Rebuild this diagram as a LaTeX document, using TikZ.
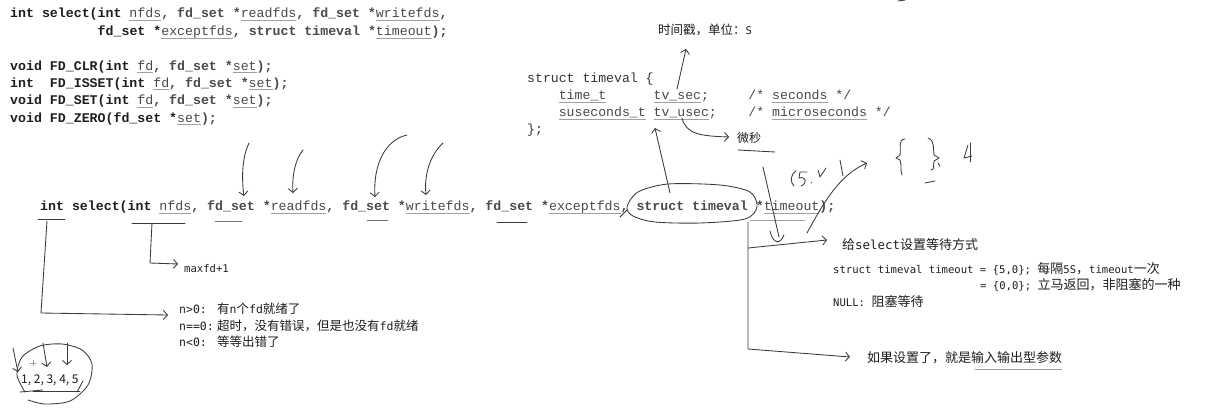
\documentclass[tikz,border=0pt]{standalone}
\usepackage{fontspec}
\usetikzlibrary{arrows.meta}
\newfontfamily\codefont{Liberation Mono}
\newfontfamily\cjk{Noto Sans CJK SC}
\newfontfamily\lat{DejaVu Sans Mono}
\definecolor{ink}{HTML}{1E1E1E}
\definecolor{argink}{HTML}{4A4A4A}
\definecolor{pen}{HTML}{3A3A3A}
\definecolor{ulgray}{HTML}{A0A0A0}
\newcommand\ulx[1]{\setbox0\hbox{\mdseries\color{argink}#1}\rlap{\color{ulgray}\rule[-2.8pt]{\wd0}{0.8pt}}\box0\relax}
\newcommand\lt[1]{{\lat\fontsize{10.6}{13}\selectfont #1}}
\newcommand\ltm[1]{{\lat\fontsize{11.5}{14}\selectfont #1}}
\newcommand\ltb[1]{{\lat\fontsize{12.4}{14}\selectfont #1}}
\frenchspacing
\tikzset{
  code/.style={anchor=base west, inner sep=0pt, text=ink, font=\codefont\bfseries\fontsize{13.25}{16}\selectfont},
  scode/.style={anchor=base west, inner sep=0pt, text=ink!90, font=\codefont\fontsize{13.17}{16}\selectfont},
  note/.style={anchor=base west, inner sep=0pt, text=ink, font=\cjk\fontsize{12.5}{15}\selectfont},
  notel/.style={note, font=\cjk\fontsize{13}{15}\selectfont},
  hand/.style={draw=pen, line width=0.85pt, line cap=round, line join=round},
  harrow/.style={hand, -{Straight Barb[length=4pt,width=9pt]}},
  faint/.style={draw=ulgray, line width=0.9pt, line cap=round},
}
\begin{document}
\begin{tikzpicture}[x=1pt,y=-1pt]
\useasboundingbox[fill=white] (0,0) rectangle (1210,413);

% ---- top-left code ----
\node[code] (c1) at (10,17.5) {int select(int \ulx{nfds}, fd\_set *\ulx{readfds}, fd\_set *\ulx{writefds},};
\node[code] (c2) at (97.5,35.5) {fd\_set *\ulx{exceptfds}, struct timeval *\ulx{timeout});};
\node[code] (c3) at (10,70) {void FD\_CLR(int \ulx{fd}, fd\_set *\ulx{set});};
\node[code] (c4) at (10,87) {int\ \ FD\_ISSET(int \ulx{fd}, fd\_set *\ulx{set});};
\node[code] (c5) at (10,104.5) {void FD\_SET(int \ulx{fd}, fd\_set *\ulx{set});};
\node[code] (c6) at (10,122) {void FD\_ZERO(fd\_set *\ulx{set});};

% ---- struct timeval ----
\node[scode] (s1) at (527,82.5) {struct timeval \{};
\node[scode] (s2) at (527,99.5) {\ \ \ \ \ulx{time\_t}\ \ \ \ \ \ \ulx{tv\_sec};\ \ \ \ \ /* \ulx{seconds} */};
\node[scode] (s3) at (527,116.5) {\ \ \ \ \ulx{suseconds\_t} \ulx{tv\_usec};\ \ \ \ /* \ulx{microseconds} */};
\node[scode] (s4) at (527,133.5) {\};};

\node[note] (ts) at (658,34.5) {时间戳，单位：\lt{S}};
\node[note, font=\cjk\fontsize{12}{14}\selectfont] (wm) at (737,142.5) {微秒};

% ---- main line ----
\node[code] (m) at (40,210.5) {int select(int \ulx{nfds}, fd\_set *\ulx{readfds}, fd\_set *\ulx{writefds}, fd\_set *\ulx{exceptfds}, struct timeval *\ulx{timeout});};

% ---- notes ----
\node[note] (mx) at (184,272) {\lt{maxfd+1}};
\node[note] (n1) at (179,313.5) {\ltm{n>0:}};
\node[note] (n1t) at (217,313.5) {有\ltm{n}个\ltm{fd}就绪了};
\node[note] (n2) at (179,330.5) {\ltm{n==0:}};
\node[note] (n2t) at (217,330.5) {超时，没有错误，但是也没有\ltm{fd}就绪};
\node[note] (n3) at (179,346.5) {\ltm{n<0:}};
\node[note] (n3t) at (217,346.5) {等等出错了};
\node[note, font=\cjk\fontsize{12}{14}\selectfont] (nums) at (21,383.5) {1, 2, 3, 4, 5};

\node[notel] (give) at (842,249.5) {给\ltb{select}设置等待方式};
\node[notel] (l7) at (833,273.5) {\lt{struct timeval timeout = \{5,0\};\ }每隔\lt{5S}，\lt{timeout}一次};
\node[notel] (l8) at (980,289.5) {\lt{= \{0,0\};\ }立马返回，非阻塞的一种};
\node[notel] (l9) at (833,306.5) {\lt{NULL:\ }阻塞等待};
\node[notel] (io) at (867,362.5) {如果设置了，就是输入输出型参数};

% ---- coordinates ----
\coordinate (secA) at (677,89);   \coordinate (secB) at (686,49);
\coordinate (usA) at (682,118);   \coordinate (usB) at (729,137);
\coordinate (elA) at (670,193);   \coordinate (elB) at (655,128);
\coordinate (intU) at (47,221);   \coordinate (intB) at (41,313);  \coordinate (intT) at (168,315);
\coordinate (nfU) at (152,223);   \coordinate (nfB) at (150,263);  \coordinate (nfT) at (178,264);
\coordinate (toU) at (748,222);   \coordinate (toB) at (748,349);  \coordinate (toT) at (850,357);
\coordinate (toM) at (748,248);   \coordinate (toMT) at (827,240);

% ---- struct block hand strokes ----
\draw[harrow] (secA) -- (secB);
\draw[harrow] (usA) .. controls (686,134) and (700,136) .. (usB);
\draw[hand] (738,150) -- (775,152);

% ---- arrows above main line ----
\draw[harrow] (249,143) .. controls (243,155) and (241,175) .. (244,196);
\draw[harrow] (303,150) .. controls (295,160) and (292,175) .. (293,193);
\draw[harrow] (407,135) .. controls (385,140) and (373,165) .. (375,197);
\draw[harrow] (443,143) .. controls (430,155) and (424,175) .. (426,195);

% ---- underlines below main line ----
\draw[hand] (38,219) -- (65,219);
\draw[hand] (132,223) -- (185,223);
\draw[hand, draw=pen!70] (215,221) -- (242,221);
\draw[hand, draw=pen!70] (367,220) -- (388,220);
\draw[hand] (497,222) -- (527,222);
\draw[faint] (750,220) -- (805,220);

% ---- ellipse round struct timeval ----
\draw[hand] plot[smooth cycle] coordinates {(627,207) (638,192) (668,184) (720,185) (750,192) (757,207) (745,219) (700,223) (655,222) (633,216)};
\draw[hand] (620,217) -- (627,210);
\draw[harrow] (elA) -- (elB);

% ---- connectors to notes ----
\draw[harrow] (intU) -- (intB) -- (intT);
\draw[harrow] (nfU) -- (nfB) -- (nfT);
\draw[harrow] (toU) -- (toB) -- (toT);
\draw[harrow] (toM) -- (toMT);
\draw[faint] (975,369) -- (1062,369);

% ---- scribbles right ----
\draw[hand] (763,167) -- (779,237);
\draw[hand] (770,231) .. controls (773,244) and (780,245) .. (784,235);
\draw[harrow] (807,233) .. controls (825,200) and (840,175) .. (867,163);
\draw[hand] (840,160) -- (843,176);
\draw[hand] (796,171) .. controls (790,175) and (790,182) .. (794,186);
\draw[hand] (807,172) -- (800,172) -- (799,178) .. controls (806,176) and (808,183) .. (801,186);
\draw[hand] (811,182) -- (811.5,183);
\draw[hand] (818,170) -- (820,177) -- (826,168);
\draw[hand] (905,139) .. controls (898,139) and (901,150) .. (900,155) -- (896,158) -- (900,160) .. controls (902,165) and (900,170) .. (902,175);
\draw[hand] (928,138) .. controls (935,140) and (933,150) .. (934,155) -- (939,158) -- (934,161) .. controls (933,165) and (935,170) .. (931,170);
\draw[hand] (938,163) -- (940,166);
\draw[hand] (968,145) -- (964,158) -- (972,156);
\draw[hand] (970,143) -- (970,162);
\draw[hand] (925,183) -- (935,181);
\draw[hand] (898,1) -- (905,0);

% ---- bottom-left circle ----
\draw[hand] plot[smooth] coordinates {(25,392) (17,375) (22,357) (40,346) (62,344) (82,350) (92,364) (88,385) (70,401) (45,404) (28,400)};
\draw[hand] (20,392) -- (43,390);
\draw[harrow] (13,348) -- (18,372);
\draw[harrow] (43,343) -- (47,367);
\draw[harrow] (67,343) -- (67,365);
\draw[faint] (30,363) -- (36,363) (33,360) -- (33,366);
\draw[hand] (77,392) -- (83,381);
\draw[hand] (33,391) -- (80,391);
\end{tikzpicture}
\end{document}
